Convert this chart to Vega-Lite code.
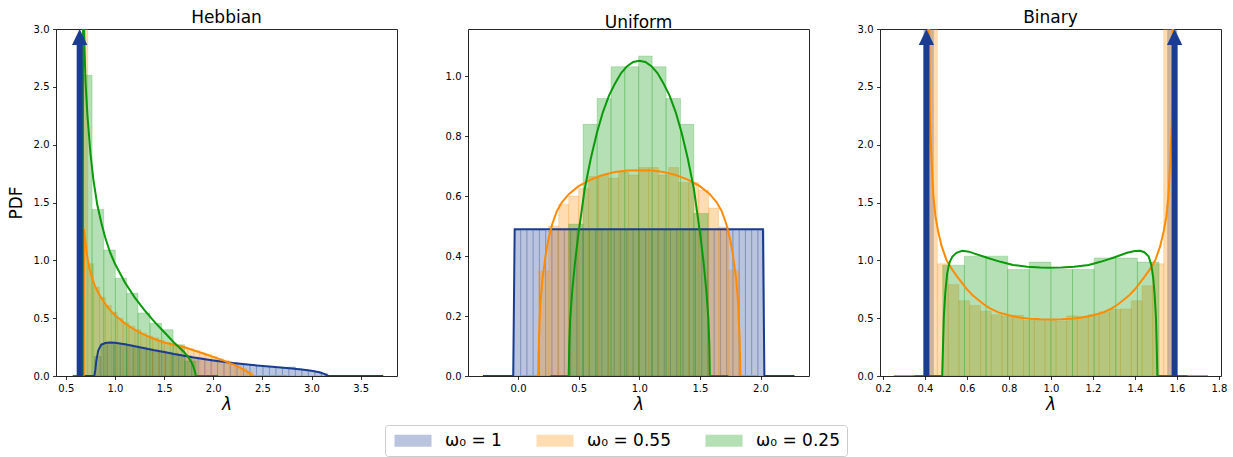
{
"$schema": "https://vega.github.io/schema/vega-lite/v6.json",
"padding": {"left": 6, "top": 8, "right": 5, "bottom": 5},
"background": "white",
"spacing": 46,
"config": {
  "view": {"stroke": "#262626", "strokeWidth": 1},
  "axis": {"domain": false, "grid": false, "tickSize": 3.5, "tickColor": "#000", "tickWidth": 0.8, "labelFont": "DejaVu Sans", "labelFontSize": 10, "labelColor": "#000", "labelPadding": 3.5, "labelFlush": false, "labelOverlap": false, "titleFont": "DejaVu Sans", "titleFontSize": 17, "titleFontWeight": "normal", "titleColor": "#000", "format": ".1f"},
  "axisX": {"titleFontStyle": "italic", "titlePadding": 3},
  "title": {"font": "DejaVu Sans", "fontSize": 17, "fontWeight": "normal", "color": "#000", "offset": -3}
},
"datasets": {
"hist": [
{"p":"Hebbian","s":"ω₀ = 1","x0":0.790,"x1":0.856,"h":0.17},
{"p":"Hebbian","s":"ω₀ = 1","x0":0.856,"x1":0.922,"h":0.28},
{"p":"Hebbian","s":"ω₀ = 1","x0":0.922,"x1":0.988,"h":0.29},
{"p":"Hebbian","s":"ω₀ = 1","x0":0.988,"x1":1.054,"h":0.285},
{"p":"Hebbian","s":"ω₀ = 1","x0":1.054,"x1":1.120,"h":0.28},
{"p":"Hebbian","s":"ω₀ = 1","x0":1.120,"x1":1.186,"h":0.27},
{"p":"Hebbian","s":"ω₀ = 1","x0":1.186,"x1":1.252,"h":0.258},
{"p":"Hebbian","s":"ω₀ = 1","x0":1.252,"x1":1.318,"h":0.25},
{"p":"Hebbian","s":"ω₀ = 1","x0":1.318,"x1":1.384,"h":0.235},
{"p":"Hebbian","s":"ω₀ = 1","x0":1.384,"x1":1.450,"h":0.225},
{"p":"Hebbian","s":"ω₀ = 1","x0":1.450,"x1":1.516,"h":0.215},
{"p":"Hebbian","s":"ω₀ = 1","x0":1.516,"x1":1.582,"h":0.205},
{"p":"Hebbian","s":"ω₀ = 1","x0":1.582,"x1":1.648,"h":0.195},
{"p":"Hebbian","s":"ω₀ = 1","x0":1.648,"x1":1.714,"h":0.183},
{"p":"Hebbian","s":"ω₀ = 1","x0":1.714,"x1":1.780,"h":0.175},
{"p":"Hebbian","s":"ω₀ = 1","x0":1.780,"x1":1.846,"h":0.165},
{"p":"Hebbian","s":"ω₀ = 1","x0":1.846,"x1":1.912,"h":0.157},
{"p":"Hebbian","s":"ω₀ = 1","x0":1.912,"x1":1.978,"h":0.145},
{"p":"Hebbian","s":"ω₀ = 1","x0":1.978,"x1":2.044,"h":0.138},
{"p":"Hebbian","s":"ω₀ = 1","x0":2.044,"x1":2.110,"h":0.128},
{"p":"Hebbian","s":"ω₀ = 1","x0":2.110,"x1":2.176,"h":0.12},
{"p":"Hebbian","s":"ω₀ = 1","x0":2.176,"x1":2.242,"h":0.115},
{"p":"Hebbian","s":"ω₀ = 1","x0":2.242,"x1":2.308,"h":0.105},
{"p":"Hebbian","s":"ω₀ = 1","x0":2.308,"x1":2.374,"h":0.1},
{"p":"Hebbian","s":"ω₀ = 1","x0":2.374,"x1":2.440,"h":0.094},
{"p":"Hebbian","s":"ω₀ = 1","x0":2.440,"x1":2.506,"h":0.09},
{"p":"Hebbian","s":"ω₀ = 1","x0":2.506,"x1":2.572,"h":0.084},
{"p":"Hebbian","s":"ω₀ = 1","x0":2.572,"x1":2.638,"h":0.08},
{"p":"Hebbian","s":"ω₀ = 1","x0":2.638,"x1":2.704,"h":0.077},
{"p":"Hebbian","s":"ω₀ = 1","x0":2.704,"x1":2.770,"h":0.072},
{"p":"Hebbian","s":"ω₀ = 1","x0":2.770,"x1":2.836,"h":0.078},
{"p":"Hebbian","s":"ω₀ = 1","x0":2.836,"x1":2.902,"h":0.062},
{"p":"Hebbian","s":"ω₀ = 1","x0":2.902,"x1":2.968,"h":0.055},
{"p":"Hebbian","s":"ω₀ = 1","x0":2.968,"x1":3.034,"h":0.046},
{"p":"Hebbian","s":"ω₀ = 1","x0":3.034,"x1":3.100,"h":0.035},
{"p":"Hebbian","s":"ω₀ = 1","x0":3.100,"x1":3.166,"h":0.02},
{"p":"Hebbian","s":"ω₀ = 0.55","x0":0.663,"x1":0.723,"h":3.4},
{"p":"Hebbian","s":"ω₀ = 0.55","x0":0.723,"x1":0.783,"h":0.97},
{"p":"Hebbian","s":"ω₀ = 0.55","x0":0.783,"x1":0.843,"h":0.77},
{"p":"Hebbian","s":"ω₀ = 0.55","x0":0.843,"x1":0.903,"h":0.68},
{"p":"Hebbian","s":"ω₀ = 0.55","x0":0.903,"x1":0.963,"h":0.61},
{"p":"Hebbian","s":"ω₀ = 0.55","x0":0.963,"x1":1.023,"h":0.55},
{"p":"Hebbian","s":"ω₀ = 0.55","x0":1.023,"x1":1.083,"h":0.50},
{"p":"Hebbian","s":"ω₀ = 0.55","x0":1.083,"x1":1.143,"h":0.46},
{"p":"Hebbian","s":"ω₀ = 0.55","x0":1.143,"x1":1.203,"h":0.43},
{"p":"Hebbian","s":"ω₀ = 0.55","x0":1.203,"x1":1.263,"h":0.40},
{"p":"Hebbian","s":"ω₀ = 0.55","x0":1.263,"x1":1.323,"h":0.37},
{"p":"Hebbian","s":"ω₀ = 0.55","x0":1.323,"x1":1.383,"h":0.345},
{"p":"Hebbian","s":"ω₀ = 0.55","x0":1.383,"x1":1.443,"h":0.33},
{"p":"Hebbian","s":"ω₀ = 0.55","x0":1.443,"x1":1.503,"h":0.31},
{"p":"Hebbian","s":"ω₀ = 0.55","x0":1.503,"x1":1.563,"h":0.29},
{"p":"Hebbian","s":"ω₀ = 0.55","x0":1.563,"x1":1.623,"h":0.28},
{"p":"Hebbian","s":"ω₀ = 0.55","x0":1.623,"x1":1.683,"h":0.265},
{"p":"Hebbian","s":"ω₀ = 0.55","x0":1.683,"x1":1.743,"h":0.25},
{"p":"Hebbian","s":"ω₀ = 0.55","x0":1.743,"x1":1.803,"h":0.235},
{"p":"Hebbian","s":"ω₀ = 0.55","x0":1.803,"x1":1.863,"h":0.22},
{"p":"Hebbian","s":"ω₀ = 0.55","x0":1.863,"x1":1.923,"h":0.20},
{"p":"Hebbian","s":"ω₀ = 0.55","x0":1.923,"x1":1.983,"h":0.185},
{"p":"Hebbian","s":"ω₀ = 0.55","x0":1.983,"x1":2.043,"h":0.17},
{"p":"Hebbian","s":"ω₀ = 0.55","x0":2.043,"x1":2.103,"h":0.15},
{"p":"Hebbian","s":"ω₀ = 0.55","x0":2.103,"x1":2.163,"h":0.135},
{"p":"Hebbian","s":"ω₀ = 0.55","x0":2.163,"x1":2.223,"h":0.115},
{"p":"Hebbian","s":"ω₀ = 0.55","x0":2.223,"x1":2.283,"h":0.09},
{"p":"Hebbian","s":"ω₀ = 0.55","x0":2.283,"x1":2.343,"h":0.065},
{"p":"Hebbian","s":"ω₀ = 0.55","x0":2.343,"x1":2.403,"h":0.035},
{"p":"Hebbian","s":"ω₀ = 0.25","x0":0.660,"x1":0.767,"h":2.60},
{"p":"Hebbian","s":"ω₀ = 0.25","x0":0.767,"x1":0.886,"h":1.44},
{"p":"Hebbian","s":"ω₀ = 0.25","x0":0.886,"x1":1.004,"h":1.09},
{"p":"Hebbian","s":"ω₀ = 0.25","x0":1.004,"x1":1.119,"h":0.845},
{"p":"Hebbian","s":"ω₀ = 0.25","x0":1.119,"x1":1.234,"h":0.715},
{"p":"Hebbian","s":"ω₀ = 0.25","x0":1.234,"x1":1.356,"h":0.545},
{"p":"Hebbian","s":"ω₀ = 0.25","x0":1.356,"x1":1.475,"h":0.455},
{"p":"Hebbian","s":"ω₀ = 0.25","x0":1.475,"x1":1.592,"h":0.40},
{"p":"Hebbian","s":"ω₀ = 0.25","x0":1.592,"x1":1.709,"h":0.27},
{"p":"Hebbian","s":"ω₀ = 0.25","x0":1.709,"x1":1.826,"h":0.13},
{"p":"Uniform","s":"ω₀ = 1","x0":-0.030,"x1":0.0215,"h":0.487},
{"p":"Uniform","s":"ω₀ = 1","x0":0.0215,"x1":0.073,"h":0.485},
{"p":"Uniform","s":"ω₀ = 1","x0":0.073,"x1":0.1245,"h":0.488},
{"p":"Uniform","s":"ω₀ = 1","x0":0.1245,"x1":0.176,"h":0.486},
{"p":"Uniform","s":"ω₀ = 1","x0":0.176,"x1":0.2275,"h":0.487},
{"p":"Uniform","s":"ω₀ = 1","x0":0.2275,"x1":0.279,"h":0.484},
{"p":"Uniform","s":"ω₀ = 1","x0":0.279,"x1":0.3305,"h":0.488},
{"p":"Uniform","s":"ω₀ = 1","x0":0.3305,"x1":0.382,"h":0.487},
{"p":"Uniform","s":"ω₀ = 1","x0":0.382,"x1":0.4335,"h":0.486},
{"p":"Uniform","s":"ω₀ = 1","x0":0.4335,"x1":0.485,"h":0.488},
{"p":"Uniform","s":"ω₀ = 1","x0":0.485,"x1":0.5365,"h":0.485},
{"p":"Uniform","s":"ω₀ = 1","x0":0.5365,"x1":0.588,"h":0.487},
{"p":"Uniform","s":"ω₀ = 1","x0":0.588,"x1":0.6395,"h":0.488},
{"p":"Uniform","s":"ω₀ = 1","x0":0.6395,"x1":0.691,"h":0.486},
{"p":"Uniform","s":"ω₀ = 1","x0":0.691,"x1":0.7425,"h":0.487},
{"p":"Uniform","s":"ω₀ = 1","x0":0.7425,"x1":0.794,"h":0.485},
{"p":"Uniform","s":"ω₀ = 1","x0":0.794,"x1":0.8455,"h":0.488},
{"p":"Uniform","s":"ω₀ = 1","x0":0.8455,"x1":0.897,"h":0.487},
{"p":"Uniform","s":"ω₀ = 1","x0":0.897,"x1":0.9485,"h":0.486},
{"p":"Uniform","s":"ω₀ = 1","x0":0.9485,"x1":1.000,"h":0.488},
{"p":"Uniform","s":"ω₀ = 1","x0":1.000,"x1":1.0515,"h":0.487},
{"p":"Uniform","s":"ω₀ = 1","x0":1.0515,"x1":1.103,"h":0.485},
{"p":"Uniform","s":"ω₀ = 1","x0":1.103,"x1":1.1545,"h":0.488},
{"p":"Uniform","s":"ω₀ = 1","x0":1.1545,"x1":1.206,"h":0.486},
{"p":"Uniform","s":"ω₀ = 1","x0":1.206,"x1":1.2575,"h":0.487},
{"p":"Uniform","s":"ω₀ = 1","x0":1.2575,"x1":1.309,"h":0.488},
{"p":"Uniform","s":"ω₀ = 1","x0":1.309,"x1":1.3605,"h":0.485},
{"p":"Uniform","s":"ω₀ = 1","x0":1.3605,"x1":1.412,"h":0.487},
{"p":"Uniform","s":"ω₀ = 1","x0":1.412,"x1":1.4635,"h":0.486},
{"p":"Uniform","s":"ω₀ = 1","x0":1.4635,"x1":1.515,"h":0.488},
{"p":"Uniform","s":"ω₀ = 1","x0":1.515,"x1":1.5665,"h":0.487},
{"p":"Uniform","s":"ω₀ = 1","x0":1.5665,"x1":1.618,"h":0.485},
{"p":"Uniform","s":"ω₀ = 1","x0":1.618,"x1":1.6695,"h":0.488},
{"p":"Uniform","s":"ω₀ = 1","x0":1.6695,"x1":1.721,"h":0.486},
{"p":"Uniform","s":"ω₀ = 1","x0":1.721,"x1":1.7725,"h":0.487},
{"p":"Uniform","s":"ω₀ = 1","x0":1.7725,"x1":1.824,"h":0.488},
{"p":"Uniform","s":"ω₀ = 1","x0":1.824,"x1":1.8755,"h":0.486},
{"p":"Uniform","s":"ω₀ = 1","x0":1.8755,"x1":1.927,"h":0.487},
{"p":"Uniform","s":"ω₀ = 1","x0":1.927,"x1":1.9785,"h":0.485},
{"p":"Uniform","s":"ω₀ = 1","x0":1.9785,"x1":2.030,"h":0.487},
{"p":"Uniform","s":"ω₀ = 0.55","x0":0.170,"x1":0.2525,"h":0.35},
{"p":"Uniform","s":"ω₀ = 0.55","x0":0.2525,"x1":0.335,"h":0.50},
{"p":"Uniform","s":"ω₀ = 0.55","x0":0.335,"x1":0.4175,"h":0.573},
{"p":"Uniform","s":"ω₀ = 0.55","x0":0.4175,"x1":0.500,"h":0.60},
{"p":"Uniform","s":"ω₀ = 0.55","x0":0.500,"x1":0.5825,"h":0.625},
{"p":"Uniform","s":"ω₀ = 0.55","x0":0.5825,"x1":0.665,"h":0.665},
{"p":"Uniform","s":"ω₀ = 0.55","x0":0.665,"x1":0.7475,"h":0.67},
{"p":"Uniform","s":"ω₀ = 0.55","x0":0.7475,"x1":0.830,"h":0.66},
{"p":"Uniform","s":"ω₀ = 0.55","x0":0.830,"x1":0.9125,"h":0.68},
{"p":"Uniform","s":"ω₀ = 0.55","x0":0.9125,"x1":0.995,"h":0.67},
{"p":"Uniform","s":"ω₀ = 0.55","x0":0.995,"x1":1.0775,"h":0.695},
{"p":"Uniform","s":"ω₀ = 0.55","x0":1.0775,"x1":1.160,"h":0.695},
{"p":"Uniform","s":"ω₀ = 0.55","x0":1.160,"x1":1.2425,"h":0.67},
{"p":"Uniform","s":"ω₀ = 0.55","x0":1.2425,"x1":1.325,"h":0.695},
{"p":"Uniform","s":"ω₀ = 0.55","x0":1.325,"x1":1.4075,"h":0.645},
{"p":"Uniform","s":"ω₀ = 0.55","x0":1.4075,"x1":1.490,"h":0.645},
{"p":"Uniform","s":"ω₀ = 0.55","x0":1.490,"x1":1.5725,"h":0.62},
{"p":"Uniform","s":"ω₀ = 0.55","x0":1.5725,"x1":1.655,"h":0.56},
{"p":"Uniform","s":"ω₀ = 0.55","x0":1.655,"x1":1.7375,"h":0.497},
{"p":"Uniform","s":"ω₀ = 0.55","x0":1.7375,"x1":1.820,"h":0.353},
{"p":"Uniform","s":"ω₀ = 0.25","x0":0.418,"x1":0.536,"h":0.506},
{"p":"Uniform","s":"ω₀ = 0.25","x0":0.536,"x1":0.652,"h":0.839},
{"p":"Uniform","s":"ω₀ = 0.25","x0":0.652,"x1":0.767,"h":0.925},
{"p":"Uniform","s":"ω₀ = 0.25","x0":0.767,"x1":0.880,"h":1.031},
{"p":"Uniform","s":"ω₀ = 0.25","x0":0.880,"x1":0.995,"h":1.031},
{"p":"Uniform","s":"ω₀ = 0.25","x0":0.995,"x1":1.106,"h":1.067},
{"p":"Uniform","s":"ω₀ = 0.25","x0":1.106,"x1":1.221,"h":1.031},
{"p":"Uniform","s":"ω₀ = 0.25","x0":1.221,"x1":1.340,"h":0.925},
{"p":"Uniform","s":"ω₀ = 0.25","x0":1.340,"x1":1.450,"h":0.839},
{"p":"Uniform","s":"ω₀ = 0.25","x0":1.450,"x1":1.568,"h":0.542},
{"p":"Binary","s":"ω₀ = 1","x0":0.395,"x1":0.440,"h":4.0},
{"p":"Binary","s":"ω₀ = 1","x0":1.556,"x1":1.600,"h":4.0},
{"p":"Binary","s":"ω₀ = 0.55","x0":0.408,"x1":0.459,"h":3.5},
{"p":"Binary","s":"ω₀ = 0.55","x0":0.459,"x1":0.511,"h":0.97},
{"p":"Binary","s":"ω₀ = 0.55","x0":0.511,"x1":0.562,"h":0.79},
{"p":"Binary","s":"ω₀ = 0.55","x0":0.562,"x1":0.613,"h":0.65},
{"p":"Binary","s":"ω₀ = 0.55","x0":0.613,"x1":0.665,"h":0.61},
{"p":"Binary","s":"ω₀ = 0.55","x0":0.665,"x1":0.716,"h":0.56},
{"p":"Binary","s":"ω₀ = 0.55","x0":0.716,"x1":0.767,"h":0.53},
{"p":"Binary","s":"ω₀ = 0.55","x0":0.767,"x1":0.818,"h":0.52},
{"p":"Binary","s":"ω₀ = 0.55","x0":0.818,"x1":0.870,"h":0.525},
{"p":"Binary","s":"ω₀ = 0.55","x0":0.870,"x1":0.921,"h":0.48},
{"p":"Binary","s":"ω₀ = 0.55","x0":0.921,"x1":0.972,"h":0.48},
{"p":"Binary","s":"ω₀ = 0.55","x0":0.972,"x1":1.024,"h":0.49},
{"p":"Binary","s":"ω₀ = 0.55","x0":1.024,"x1":1.075,"h":0.475},
{"p":"Binary","s":"ω₀ = 0.55","x0":1.075,"x1":1.126,"h":0.52},
{"p":"Binary","s":"ω₀ = 0.55","x0":1.126,"x1":1.178,"h":0.515},
{"p":"Binary","s":"ω₀ = 0.55","x0":1.178,"x1":1.229,"h":0.53},
{"p":"Binary","s":"ω₀ = 0.55","x0":1.229,"x1":1.280,"h":0.555},
{"p":"Binary","s":"ω₀ = 0.55","x0":1.280,"x1":1.331,"h":0.575},
{"p":"Binary","s":"ω₀ = 0.55","x0":1.331,"x1":1.383,"h":0.58},
{"p":"Binary","s":"ω₀ = 0.55","x0":1.383,"x1":1.434,"h":0.65},
{"p":"Binary","s":"ω₀ = 0.55","x0":1.434,"x1":1.485,"h":0.78},
{"p":"Binary","s":"ω₀ = 0.55","x0":1.485,"x1":1.537,"h":0.97},
{"p":"Binary","s":"ω₀ = 0.55","x0":1.537,"x1":1.588,"h":3.5},
{"p":"Binary","s":"ω₀ = 0.25","x0":0.485,"x1":0.588,"h":0.958},
{"p":"Binary","s":"ω₀ = 0.25","x0":0.588,"x1":0.691,"h":1.036},
{"p":"Binary","s":"ω₀ = 0.25","x0":0.691,"x1":0.794,"h":1.036},
{"p":"Binary","s":"ω₀ = 0.25","x0":0.794,"x1":0.897,"h":0.92},
{"p":"Binary","s":"ω₀ = 0.25","x0":0.897,"x1":1.000,"h":0.985},
{"p":"Binary","s":"ω₀ = 0.25","x0":1.000,"x1":1.103,"h":0.92},
{"p":"Binary","s":"ω₀ = 0.25","x0":1.103,"x1":1.206,"h":0.92},
{"p":"Binary","s":"ω₀ = 0.25","x0":1.206,"x1":1.309,"h":1.02},
{"p":"Binary","s":"ω₀ = 0.25","x0":1.309,"x1":1.412,"h":1.02},
{"p":"Binary","s":"ω₀ = 0.25","x0":1.412,"x1":1.515,"h":0.985}
],
"curve": [
{"p":"Hebbian","s":"ω₀ = 1","x":0.64,"y":0},
{"p":"Hebbian","s":"ω₀ = 1","x":0.79,"y":0},
{"p":"Hebbian","s":"ω₀ = 1","x":0.80,"y":0.05},
{"p":"Hebbian","s":"ω₀ = 1","x":0.81,"y":0.13},
{"p":"Hebbian","s":"ω₀ = 1","x":0.83,"y":0.22},
{"p":"Hebbian","s":"ω₀ = 1","x":0.86,"y":0.27},
{"p":"Hebbian","s":"ω₀ = 1","x":0.90,"y":0.285},
{"p":"Hebbian","s":"ω₀ = 1","x":0.95,"y":0.29},
{"p":"Hebbian","s":"ω₀ = 1","x":1.0,"y":0.288},
{"p":"Hebbian","s":"ω₀ = 1","x":1.1,"y":0.275},
{"p":"Hebbian","s":"ω₀ = 1","x":1.2,"y":0.258},
{"p":"Hebbian","s":"ω₀ = 1","x":1.3,"y":0.24},
{"p":"Hebbian","s":"ω₀ = 1","x":1.4,"y":0.222},
{"p":"Hebbian","s":"ω₀ = 1","x":1.5,"y":0.207},
{"p":"Hebbian","s":"ω₀ = 1","x":1.6,"y":0.19},
{"p":"Hebbian","s":"ω₀ = 1","x":1.7,"y":0.175},
{"p":"Hebbian","s":"ω₀ = 1","x":1.8,"y":0.16},
{"p":"Hebbian","s":"ω₀ = 1","x":1.9,"y":0.147},
{"p":"Hebbian","s":"ω₀ = 1","x":2.0,"y":0.135},
{"p":"Hebbian","s":"ω₀ = 1","x":2.2,"y":0.113},
{"p":"Hebbian","s":"ω₀ = 1","x":2.4,"y":0.095},
{"p":"Hebbian","s":"ω₀ = 1","x":2.6,"y":0.08},
{"p":"Hebbian","s":"ω₀ = 1","x":2.8,"y":0.065},
{"p":"Hebbian","s":"ω₀ = 1","x":2.9,"y":0.057},
{"p":"Hebbian","s":"ω₀ = 1","x":3.0,"y":0.045},
{"p":"Hebbian","s":"ω₀ = 1","x":3.08,"y":0.033},
{"p":"Hebbian","s":"ω₀ = 1","x":3.13,"y":0.018},
{"p":"Hebbian","s":"ω₀ = 1","x":3.17,"y":0},
{"p":"Hebbian","s":"ω₀ = 1","x":3.73,"y":0},
{"p":"Hebbian","s":"ω₀ = 0.55","x":0.60,"y":0},
{"p":"Hebbian","s":"ω₀ = 0.55","x":0.682,"y":0},
{"p":"Hebbian","s":"ω₀ = 0.55","x":0.685,"y":1.27},
{"p":"Hebbian","s":"ω₀ = 0.55","x":0.70,"y":1.15},
{"p":"Hebbian","s":"ω₀ = 0.55","x":0.72,"y":1.02},
{"p":"Hebbian","s":"ω₀ = 0.55","x":0.74,"y":0.93},
{"p":"Hebbian","s":"ω₀ = 0.55","x":0.77,"y":0.84},
{"p":"Hebbian","s":"ω₀ = 0.55","x":0.80,"y":0.77},
{"p":"Hebbian","s":"ω₀ = 0.55","x":0.85,"y":0.69},
{"p":"Hebbian","s":"ω₀ = 0.55","x":0.90,"y":0.625},
{"p":"Hebbian","s":"ω₀ = 0.55","x":0.95,"y":0.57},
{"p":"Hebbian","s":"ω₀ = 0.55","x":1.0,"y":0.525},
{"p":"Hebbian","s":"ω₀ = 0.55","x":1.1,"y":0.455},
{"p":"Hebbian","s":"ω₀ = 0.55","x":1.2,"y":0.40},
{"p":"Hebbian","s":"ω₀ = 0.55","x":1.3,"y":0.355},
{"p":"Hebbian","s":"ω₀ = 0.55","x":1.4,"y":0.32},
{"p":"Hebbian","s":"ω₀ = 0.55","x":1.5,"y":0.29},
{"p":"Hebbian","s":"ω₀ = 0.55","x":1.6,"y":0.27},
{"p":"Hebbian","s":"ω₀ = 0.55","x":1.7,"y":0.25},
{"p":"Hebbian","s":"ω₀ = 0.55","x":1.8,"y":0.222},
{"p":"Hebbian","s":"ω₀ = 0.55","x":1.9,"y":0.195},
{"p":"Hebbian","s":"ω₀ = 0.55","x":2.0,"y":0.165},
{"p":"Hebbian","s":"ω₀ = 0.55","x":2.1,"y":0.135},
{"p":"Hebbian","s":"ω₀ = 0.55","x":2.2,"y":0.10},
{"p":"Hebbian","s":"ω₀ = 0.55","x":2.3,"y":0.06},
{"p":"Hebbian","s":"ω₀ = 0.55","x":2.35,"y":0.035},
{"p":"Hebbian","s":"ω₀ = 0.55","x":2.39,"y":0.01},
{"p":"Hebbian","s":"ω₀ = 0.55","x":2.41,"y":0},
{"p":"Hebbian","s":"ω₀ = 0.55","x":2.75,"y":0},
{"p":"Hebbian","s":"ω₀ = 0.25","x":0.57,"y":0},
{"p":"Hebbian","s":"ω₀ = 0.25","x":0.672,"y":0},
{"p":"Hebbian","s":"ω₀ = 0.25","x":0.676,"y":3.4},
{"p":"Hebbian","s":"ω₀ = 0.25","x":0.69,"y":2.85},
{"p":"Hebbian","s":"ω₀ = 0.25","x":0.70,"y":2.55},
{"p":"Hebbian","s":"ω₀ = 0.25","x":0.72,"y":2.25},
{"p":"Hebbian","s":"ω₀ = 0.25","x":0.75,"y":1.93},
{"p":"Hebbian","s":"ω₀ = 0.25","x":0.78,"y":1.70},
{"p":"Hebbian","s":"ω₀ = 0.25","x":0.82,"y":1.48},
{"p":"Hebbian","s":"ω₀ = 0.25","x":0.86,"y":1.33},
{"p":"Hebbian","s":"ω₀ = 0.25","x":0.90,"y":1.20},
{"p":"Hebbian","s":"ω₀ = 0.25","x":0.95,"y":1.07},
{"p":"Hebbian","s":"ω₀ = 0.25","x":1.0,"y":0.97},
{"p":"Hebbian","s":"ω₀ = 0.25","x":1.1,"y":0.81},
{"p":"Hebbian","s":"ω₀ = 0.25","x":1.2,"y":0.68},
{"p":"Hebbian","s":"ω₀ = 0.25","x":1.3,"y":0.57},
{"p":"Hebbian","s":"ω₀ = 0.25","x":1.4,"y":0.47},
{"p":"Hebbian","s":"ω₀ = 0.25","x":1.5,"y":0.38},
{"p":"Hebbian","s":"ω₀ = 0.25","x":1.6,"y":0.29},
{"p":"Hebbian","s":"ω₀ = 0.25","x":1.7,"y":0.21},
{"p":"Hebbian","s":"ω₀ = 0.25","x":1.75,"y":0.16},
{"p":"Hebbian","s":"ω₀ = 0.25","x":1.79,"y":0.10},
{"p":"Hebbian","s":"ω₀ = 0.25","x":1.81,"y":0.05},
{"p":"Hebbian","s":"ω₀ = 0.25","x":1.825,"y":0},
{"p":"Hebbian","s":"ω₀ = 0.25","x":2.05,"y":0},
{"p":"Uniform","s":"ω₀ = 1","x":-0.29,"y":0},
{"p":"Uniform","s":"ω₀ = 1","x":-0.04,"y":0},
{"p":"Uniform","s":"ω₀ = 1","x":-0.028,"y":0.489},
{"p":"Uniform","s":"ω₀ = 1","x":2.02,"y":0.489},
{"p":"Uniform","s":"ω₀ = 1","x":2.032,"y":0},
{"p":"Uniform","s":"ω₀ = 1","x":2.28,"y":0},
{"p":"Uniform","s":"ω₀ = 0.55","x":0.03,"y":0},
{"p":"Uniform","s":"ω₀ = 0.55","x":0.165,"y":0},
{"p":"Uniform","s":"ω₀ = 0.55","x":0.172,"y":0.12},
{"p":"Uniform","s":"ω₀ = 0.55","x":0.184,"y":0.24},
{"p":"Uniform","s":"ω₀ = 0.55","x":0.20,"y":0.32},
{"p":"Uniform","s":"ω₀ = 0.55","x":0.226,"y":0.40},
{"p":"Uniform","s":"ω₀ = 0.55","x":0.25,"y":0.455},
{"p":"Uniform","s":"ω₀ = 0.55","x":0.281,"y":0.505},
{"p":"Uniform","s":"ω₀ = 0.55","x":0.32,"y":0.55},
{"p":"Uniform","s":"ω₀ = 0.55","x":0.363,"y":0.58},
{"p":"Uniform","s":"ω₀ = 0.55","x":0.42,"y":0.607},
{"p":"Uniform","s":"ω₀ = 0.55","x":0.5,"y":0.633},
{"p":"Uniform","s":"ω₀ = 0.55","x":0.6,"y":0.655},
{"p":"Uniform","s":"ω₀ = 0.55","x":0.7,"y":0.67},
{"p":"Uniform","s":"ω₀ = 0.55","x":0.8,"y":0.68},
{"p":"Uniform","s":"ω₀ = 0.55","x":0.9,"y":0.685},
{"p":"Uniform","s":"ω₀ = 0.55","x":1.0,"y":0.686},
{"p":"Uniform","s":"ω₀ = 0.55","x":1.1,"y":0.685},
{"p":"Uniform","s":"ω₀ = 0.55","x":1.2,"y":0.68},
{"p":"Uniform","s":"ω₀ = 0.55","x":1.3,"y":0.67},
{"p":"Uniform","s":"ω₀ = 0.55","x":1.4,"y":0.655},
{"p":"Uniform","s":"ω₀ = 0.55","x":1.5,"y":0.633},
{"p":"Uniform","s":"ω₀ = 0.55","x":1.58,"y":0.607},
{"p":"Uniform","s":"ω₀ = 0.55","x":1.637,"y":0.58},
{"p":"Uniform","s":"ω₀ = 0.55","x":1.68,"y":0.55},
{"p":"Uniform","s":"ω₀ = 0.55","x":1.719,"y":0.505},
{"p":"Uniform","s":"ω₀ = 0.55","x":1.75,"y":0.455},
{"p":"Uniform","s":"ω₀ = 0.55","x":1.774,"y":0.40},
{"p":"Uniform","s":"ω₀ = 0.55","x":1.80,"y":0.32},
{"p":"Uniform","s":"ω₀ = 0.55","x":1.816,"y":0.24},
{"p":"Uniform","s":"ω₀ = 0.55","x":1.828,"y":0.12},
{"p":"Uniform","s":"ω₀ = 0.55","x":1.835,"y":0},
{"p":"Uniform","s":"ω₀ = 0.55","x":1.97,"y":0},
{"p":"Uniform","s":"ω₀ = 0.25","x":0.265,"y":0},
{"p":"Uniform","s":"ω₀ = 0.25","x":0.418,"y":0},
{"p":"Uniform","s":"ω₀ = 0.25","x":0.422,"y":0.10},
{"p":"Uniform","s":"ω₀ = 0.25","x":0.43,"y":0.19},
{"p":"Uniform","s":"ω₀ = 0.25","x":0.446,"y":0.28},
{"p":"Uniform","s":"ω₀ = 0.25","x":0.47,"y":0.38},
{"p":"Uniform","s":"ω₀ = 0.25","x":0.5,"y":0.48},
{"p":"Uniform","s":"ω₀ = 0.25","x":0.55,"y":0.625},
{"p":"Uniform","s":"ω₀ = 0.25","x":0.6,"y":0.725},
{"p":"Uniform","s":"ω₀ = 0.25","x":0.65,"y":0.81},
{"p":"Uniform","s":"ω₀ = 0.25","x":0.7,"y":0.88},
{"p":"Uniform","s":"ω₀ = 0.25","x":0.75,"y":0.935},
{"p":"Uniform","s":"ω₀ = 0.25","x":0.8,"y":0.975},
{"p":"Uniform","s":"ω₀ = 0.25","x":0.85,"y":1.01},
{"p":"Uniform","s":"ω₀ = 0.25","x":0.9,"y":1.033},
{"p":"Uniform","s":"ω₀ = 0.25","x":0.95,"y":1.047},
{"p":"Uniform","s":"ω₀ = 0.25","x":1.0,"y":1.051},
{"p":"Uniform","s":"ω₀ = 0.25","x":1.05,"y":1.047},
{"p":"Uniform","s":"ω₀ = 0.25","x":1.1,"y":1.033},
{"p":"Uniform","s":"ω₀ = 0.25","x":1.15,"y":1.01},
{"p":"Uniform","s":"ω₀ = 0.25","x":1.2,"y":0.975},
{"p":"Uniform","s":"ω₀ = 0.25","x":1.25,"y":0.935},
{"p":"Uniform","s":"ω₀ = 0.25","x":1.3,"y":0.88},
{"p":"Uniform","s":"ω₀ = 0.25","x":1.35,"y":0.81},
{"p":"Uniform","s":"ω₀ = 0.25","x":1.4,"y":0.725},
{"p":"Uniform","s":"ω₀ = 0.25","x":1.45,"y":0.625},
{"p":"Uniform","s":"ω₀ = 0.25","x":1.5,"y":0.48},
{"p":"Uniform","s":"ω₀ = 0.25","x":1.53,"y":0.38},
{"p":"Uniform","s":"ω₀ = 0.25","x":1.554,"y":0.28},
{"p":"Uniform","s":"ω₀ = 0.25","x":1.57,"y":0.19},
{"p":"Uniform","s":"ω₀ = 0.25","x":1.578,"y":0.10},
{"p":"Uniform","s":"ω₀ = 0.25","x":1.582,"y":0},
{"p":"Uniform","s":"ω₀ = 0.25","x":1.735,"y":0},
{"p":"Binary","s":"ω₀ = 0.55","x":0.252,"y":0},
{"p":"Binary","s":"ω₀ = 0.55","x":0.414,"y":0},
{"p":"Binary","s":"ω₀ = 0.55","x":0.418,"y":3.4},
{"p":"Binary","s":"ω₀ = 0.55","x":0.424,"y":2.2},
{"p":"Binary","s":"ω₀ = 0.55","x":0.432,"y":1.85},
{"p":"Binary","s":"ω₀ = 0.55","x":0.44,"y":1.56},
{"p":"Binary","s":"ω₀ = 0.55","x":0.45,"y":1.38},
{"p":"Binary","s":"ω₀ = 0.55","x":0.463,"y":1.25},
{"p":"Binary","s":"ω₀ = 0.55","x":0.48,"y":1.12},
{"p":"Binary","s":"ω₀ = 0.55","x":0.503,"y":1.0},
{"p":"Binary","s":"ω₀ = 0.55","x":0.53,"y":0.92},
{"p":"Binary","s":"ω₀ = 0.55","x":0.551,"y":0.866},
{"p":"Binary","s":"ω₀ = 0.55","x":0.6,"y":0.75},
{"p":"Binary","s":"ω₀ = 0.55","x":0.63,"y":0.693},
{"p":"Binary","s":"ω₀ = 0.55","x":0.68,"y":0.62},
{"p":"Binary","s":"ω₀ = 0.55","x":0.71,"y":0.585},
{"p":"Binary","s":"ω₀ = 0.55","x":0.75,"y":0.55},
{"p":"Binary","s":"ω₀ = 0.55","x":0.8,"y":0.525},
{"p":"Binary","s":"ω₀ = 0.55","x":0.85,"y":0.505},
{"p":"Binary","s":"ω₀ = 0.55","x":0.9,"y":0.495},
{"p":"Binary","s":"ω₀ = 0.55","x":0.95,"y":0.49},
{"p":"Binary","s":"ω₀ = 0.55","x":1.0,"y":0.488},
{"p":"Binary","s":"ω₀ = 0.55","x":1.05,"y":0.49},
{"p":"Binary","s":"ω₀ = 0.55","x":1.1,"y":0.495},
{"p":"Binary","s":"ω₀ = 0.55","x":1.15,"y":0.505},
{"p":"Binary","s":"ω₀ = 0.55","x":1.2,"y":0.525},
{"p":"Binary","s":"ω₀ = 0.55","x":1.25,"y":0.55},
{"p":"Binary","s":"ω₀ = 0.55","x":1.29,"y":0.585},
{"p":"Binary","s":"ω₀ = 0.55","x":1.32,"y":0.62},
{"p":"Binary","s":"ω₀ = 0.55","x":1.37,"y":0.693},
{"p":"Binary","s":"ω₀ = 0.55","x":1.4,"y":0.75},
{"p":"Binary","s":"ω₀ = 0.55","x":1.449,"y":0.866},
{"p":"Binary","s":"ω₀ = 0.55","x":1.47,"y":0.92},
{"p":"Binary","s":"ω₀ = 0.55","x":1.497,"y":1.0},
{"p":"Binary","s":"ω₀ = 0.55","x":1.52,"y":1.12},
{"p":"Binary","s":"ω₀ = 0.55","x":1.537,"y":1.25},
{"p":"Binary","s":"ω₀ = 0.55","x":1.55,"y":1.38},
{"p":"Binary","s":"ω₀ = 0.55","x":1.56,"y":1.56},
{"p":"Binary","s":"ω₀ = 0.55","x":1.568,"y":1.85},
{"p":"Binary","s":"ω₀ = 0.55","x":1.576,"y":2.2},
{"p":"Binary","s":"ω₀ = 0.55","x":1.582,"y":3.4},
{"p":"Binary","s":"ω₀ = 0.55","x":1.586,"y":0},
{"p":"Binary","s":"ω₀ = 0.55","x":1.748,"y":0},
{"p":"Binary","s":"ω₀ = 0.25","x":0.35,"y":0},
{"p":"Binary","s":"ω₀ = 0.25","x":0.482,"y":0},
{"p":"Binary","s":"ω₀ = 0.25","x":0.486,"y":0.25},
{"p":"Binary","s":"ω₀ = 0.25","x":0.49,"y":0.511},
{"p":"Binary","s":"ω₀ = 0.25","x":0.497,"y":0.72},
{"p":"Binary","s":"ω₀ = 0.25","x":0.506,"y":0.887},
{"p":"Binary","s":"ω₀ = 0.25","x":0.517,"y":0.98},
{"p":"Binary","s":"ω₀ = 0.25","x":0.53,"y":1.03},
{"p":"Binary","s":"ω₀ = 0.25","x":0.55,"y":1.065},
{"p":"Binary","s":"ω₀ = 0.25","x":0.578,"y":1.082},
{"p":"Binary","s":"ω₀ = 0.25","x":0.61,"y":1.075},
{"p":"Binary","s":"ω₀ = 0.25","x":0.633,"y":1.06},
{"p":"Binary","s":"ω₀ = 0.25","x":0.7,"y":1.02},
{"p":"Binary","s":"ω₀ = 0.25","x":0.76,"y":0.987},
{"p":"Binary","s":"ω₀ = 0.25","x":0.82,"y":0.96},
{"p":"Binary","s":"ω₀ = 0.25","x":0.887,"y":0.944},
{"p":"Binary","s":"ω₀ = 0.25","x":0.95,"y":0.937},
{"p":"Binary","s":"ω₀ = 0.25","x":1.0,"y":0.935},
{"p":"Binary","s":"ω₀ = 0.25","x":1.05,"y":0.937},
{"p":"Binary","s":"ω₀ = 0.25","x":1.11,"y":0.944},
{"p":"Binary","s":"ω₀ = 0.25","x":1.18,"y":0.96},
{"p":"Binary","s":"ω₀ = 0.25","x":1.236,"y":0.987},
{"p":"Binary","s":"ω₀ = 0.25","x":1.3,"y":1.025},
{"p":"Binary","s":"ω₀ = 0.25","x":1.363,"y":1.065},
{"p":"Binary","s":"ω₀ = 0.25","x":1.4,"y":1.08},
{"p":"Binary","s":"ω₀ = 0.25","x":1.425,"y":1.082},
{"p":"Binary","s":"ω₀ = 0.25","x":1.445,"y":1.07},
{"p":"Binary","s":"ω₀ = 0.25","x":1.465,"y":1.035},
{"p":"Binary","s":"ω₀ = 0.25","x":1.478,"y":0.96},
{"p":"Binary","s":"ω₀ = 0.25","x":1.487,"y":0.85},
{"p":"Binary","s":"ω₀ = 0.25","x":1.494,"y":0.70},
{"p":"Binary","s":"ω₀ = 0.25","x":1.5,"y":0.511},
{"p":"Binary","s":"ω₀ = 0.25","x":1.504,"y":0.25},
{"p":"Binary","s":"ω₀ = 0.25","x":1.507,"y":0},
{"p":"Binary","s":"ω₀ = 0.25","x":1.65,"y":0}
],
"arrow": [
{"p":"Hebbian","x":0.641,"y":3.0},
{"p":"Binary","x":0.407,"y":3.0},
{"p":"Binary","x":1.589,"y":3.0}
]
},
"hconcat": [
{
"title": "Hebbian", "width": 341, "height": 347,
"layer": [
{"data": {"name": "hist"}, "transform": [{"filter": "datum.p == 'Hebbian'"}],
 "mark": {"type": "rect", "clip": true, "fillOpacity": 0.3, "strokeWidth": 0.7, "strokeOpacity": 0.3},
 "encoding": {
  "x": {"field": "x0", "type": "quantitative", "scale": {"domain": [0.40, 3.87], "nice": false, "zero": false}, "axis": {"title": "λ", "values": [0.5, 1.0, 1.5, 2.0, 2.5, 3.0, 3.5]}},
  "x2": {"field": "x1"},
  "y": {"field": "h", "type": "quantitative", "scale": {"domain": [0, 3], "nice": false}, "axis": {"title": "PDF", "values": [0, 0.5, 1.0, 1.5, 2.0, 2.5, 3.0], "titlePadding": 8}},
  "y2": {"datum": 0},
  "fill": {"field": "s", "type": "nominal", "scale": {"domain": ["ω₀ = 1", "ω₀ = 0.55", "ω₀ = 0.25"], "range": ["#1a3d91", "#ff8c00", "#0a990a"]},
   "legend": {"orient": "none", "legendX": 329, "legendY": 396, "direction": "horizontal", "title": null, "symbolType": "M-1,-1H5.17V1H-1Z", "symbolSize": 144, "symbolOpacity": 0.3, "symbolStrokeWidth": 0, "labelFont": "DejaVu Sans", "labelFontSize": 17, "labelColor": "#000", "labelOffset": 36, "columnPadding": 32, "padding": 7, "strokeColor": "#cccccc", "fillColor": "#ffffff", "cornerRadius": 3}},
  "stroke": {"field": "s", "type": "nominal", "scale": {"domain": ["ω₀ = 1", "ω₀ = 0.55", "ω₀ = 0.25"], "range": ["#1a3d91", "#ff8c00", "#0a990a"]}, "legend": null}
 }},
{"data": {"name": "curve"}, "transform": [{"filter": "datum.p == 'Hebbian'"}],
 "mark": {"type": "line", "clip": true, "strokeWidth": 2},
 "encoding": {"x": {"field": "x", "type": "quantitative"}, "y": {"field": "y", "type": "quantitative"}, "stroke": {"field": "s", "type": "nominal", "legend": null}}},
{"data": {"name": "arrow"}, "transform": [{"filter": "datum.p == 'Hebbian'"}],
 "mark": {"type": "rule", "strokeWidth": 6, "color": "#1a3d91", "yOffset": 14},
 "encoding": {"x": {"field": "x", "type": "quantitative"}, "y": {"field": "y", "type": "quantitative"}, "y2": {"datum": 0}}},
{"data": {"name": "arrow"}, "transform": [{"filter": "datum.p == 'Hebbian'"}],
 "mark": {"type": "point", "shape": "M0,0L-1,2.1L1,2.1Z", "size": 234, "filled": true, "opacity": 1, "color": "#1a3d91", "strokeWidth": 0},
 "encoding": {"x": {"field": "x", "type": "quantitative"}, "y": {"field": "y", "type": "quantitative"}}}
]
},
{
"title": "Uniform", "width": 341, "height": 347,
"layer": [
{"data": {"name": "hist"}, "transform": [{"filter": "datum.p == 'Uniform'"}],
 "mark": {"type": "rect", "clip": true, "fillOpacity": 0.3, "strokeWidth": 0.7, "strokeOpacity": 0.3},
 "encoding": {
  "x": {"field": "x0", "type": "quantitative", "scale": {"domain": [-0.413, 2.40], "nice": false, "zero": false}, "axis": {"title": "λ", "values": [0, 0.5, 1.0, 1.5, 2.0]}},
  "x2": {"field": "x1"},
  "y": {"field": "h", "type": "quantitative", "scale": {"domain": [0, 1.157], "nice": false}, "axis": {"title": null, "values": [0, 0.2, 0.4, 0.6, 0.8, 1.0]}},
  "y2": {"datum": 0},
  "fill": {"field": "s", "type": "nominal"},
  "stroke": {"field": "s", "type": "nominal", "legend": null}
 }},
{"data": {"name": "curve"}, "transform": [{"filter": "datum.p == 'Uniform'"}],
 "mark": {"type": "line", "clip": true, "strokeWidth": 2},
 "encoding": {"x": {"field": "x", "type": "quantitative"}, "y": {"field": "y", "type": "quantitative"}, "stroke": {"field": "s", "type": "nominal", "legend": null}}}
]
},
{
"title": "Binary", "width": 341, "height": 347,
"layer": [
{"data": {"name": "hist"}, "transform": [{"filter": "datum.p == 'Binary'"}],
 "mark": {"type": "rect", "clip": true, "fillOpacity": 0.3, "strokeWidth": 0.7, "strokeOpacity": 0.3},
 "encoding": {
  "x": {"field": "x0", "type": "quantitative", "scale": {"domain": [0.186, 1.81], "nice": false, "zero": false}, "axis": {"title": "λ", "values": [0.2, 0.4, 0.6, 0.8, 1.0, 1.2, 1.4, 1.6, 1.8]}},
  "x2": {"field": "x1"},
  "y": {"field": "h", "type": "quantitative", "scale": {"domain": [0, 3], "nice": false}, "axis": {"title": null, "values": [0, 0.5, 1.0, 1.5, 2.0, 2.5, 3.0]}},
  "y2": {"datum": 0},
  "fill": {"field": "s", "type": "nominal"},
  "stroke": {"field": "s", "type": "nominal", "legend": null}
 }},
{"data": {"name": "curve"}, "transform": [{"filter": "datum.p == 'Binary'"}],
 "mark": {"type": "line", "clip": true, "strokeWidth": 2},
 "encoding": {"x": {"field": "x", "type": "quantitative"}, "y": {"field": "y", "type": "quantitative"}, "stroke": {"field": "s", "type": "nominal", "legend": null}}},
{"data": {"name": "arrow"}, "transform": [{"filter": "datum.p == 'Binary'"}],
 "mark": {"type": "rule", "strokeWidth": 6, "color": "#1a3d91", "yOffset": 14},
 "encoding": {"x": {"field": "x", "type": "quantitative"}, "y": {"field": "y", "type": "quantitative"}, "y2": {"datum": 0}}},
{"data": {"name": "arrow"}, "transform": [{"filter": "datum.p == 'Binary'"}],
 "mark": {"type": "point", "shape": "M0,0L-1,2.1L1,2.1Z", "size": 234, "filled": true, "opacity": 1, "color": "#1a3d91", "strokeWidth": 0},
 "encoding": {"x": {"field": "x", "type": "quantitative"}, "y": {"field": "y", "type": "quantitative"}}}
]
}
]
}
